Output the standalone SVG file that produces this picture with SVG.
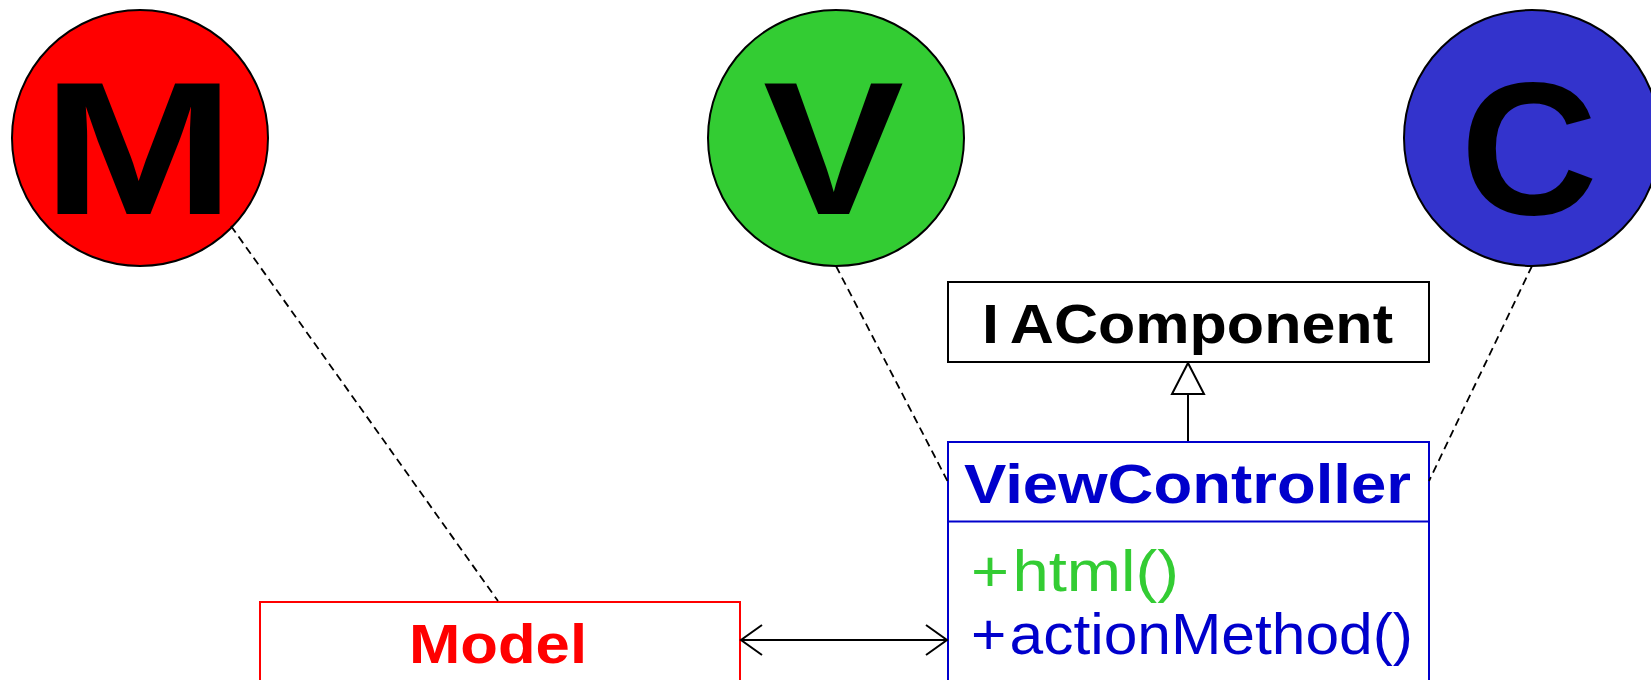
<svg xmlns="http://www.w3.org/2000/svg" width="1651" height="680" viewBox="0 0 1651 680">
<style>
.circ{stroke:#000;stroke-width:2}
.big{font-family:"Liberation Sans",Arial,sans-serif;font-weight:bold;font-size:190px;fill:#000;text-anchor:middle}
.lbl{font-family:"Liberation Sans",Arial,sans-serif;font-weight:bold;font-size:56px}
.op{font-family:"Liberation Sans",Arial,sans-serif;font-size:57px}
.dash{stroke:#000;stroke-width:1.8;stroke-dasharray:8 5;fill:none}
.solid{stroke:#000;stroke-width:2;fill:none}
</style>
<defs>
<marker id="open" viewBox="0 0 24 32" refX="22" refY="16" markerWidth="24" markerHeight="32" markerUnits="userSpaceOnUse" orient="auto-start-reverse">
<path d="M1,1 L22,16 L1,31" fill="none" stroke="#000" stroke-width="2"/>
</marker>
</defs>
<rect width="1651" height="680" fill="#fff"/>
<g id="M">
<circle class="circ" cx="140" cy="138" r="128" fill="#FF0000"/>
<text class="big" x="138.5" y="214" textLength="193" lengthAdjust="spacingAndGlyphs">M</text>
</g>
<g id="V">
<circle class="circ" cx="836" cy="138" r="128" fill="#33CC33"/>
<text class="big" x="833.5" y="214" textLength="141" lengthAdjust="spacingAndGlyphs">V</text>
</g>
<g id="C">
<circle class="circ" cx="1532" cy="138" r="128" fill="#3333CC"/>
<text class="big" x="1529" y="214">C</text>
</g>
<g id="IAComponent">
<rect x="948" y="282" width="481" height="80" fill="#fff" stroke="#000" stroke-width="2"/>
<text class="lbl" x="982" y="343" fill="#000" textLength="411" lengthAdjust="spacingAndGlyphs">I<tspan dx="10">AComponent</tspan></text>
</g>
<g id="ViewController">
<rect x="948" y="442" width="481" height="300" fill="#fff" stroke="#0000CC" stroke-width="2"/>
<line x1="948" y1="521.5" x2="1429" y2="521.5" stroke="#0000CC" stroke-width="2"/>
<text class="lbl" x="964" y="503" fill="#0000CC" textLength="447" lengthAdjust="spacingAndGlyphs">ViewController</text>
<text class="op" x="971" y="591" fill="#33CC33" textLength="208" lengthAdjust="spacingAndGlyphs">+<tspan dx="3">html()</tspan></text>
<text class="op" x="971" y="654" fill="#0000CC" textLength="442" lengthAdjust="spacingAndGlyphs">+<tspan dx="3">actionMethod()</tspan></text>
</g>
<g id="Model">
<rect x="260" y="602" width="480" height="140" fill="#fff" stroke="#FF0000" stroke-width="2"/>
<text class="lbl" x="409" y="663" fill="#FF0000" textLength="178" lengthAdjust="spacingAndGlyphs">Model</text>
</g>
<g id="connectors">
<line class="dash" x1="231" y1="226" x2="498" y2="601"/>
<line class="dash" x1="836" y1="266" x2="948" y2="482"/>
<line class="dash" x1="1532" y1="266" x2="1429" y2="481"/>
<line class="solid" x1="741" y1="640" x2="947" y2="640" marker-start="url(#open)" marker-end="url(#open)"/>
<line class="solid" x1="1188" y1="394" x2="1188" y2="441"/>
<path d="M1188,363 L1204,394 L1172,394 Z" fill="#fff" stroke="#000" stroke-width="2"/>
</g>
</svg>
